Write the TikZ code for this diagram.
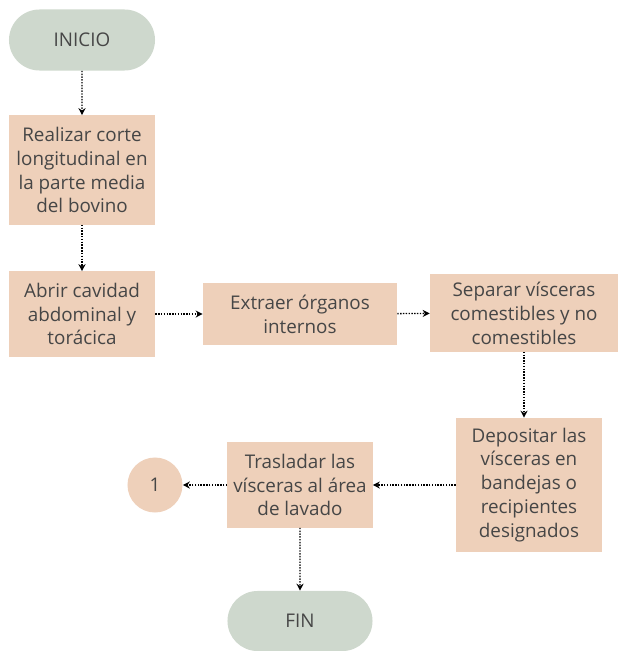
\documentclass[tikz,border=0pt]{standalone}
\usepackage{fontspec}
\setmainfont{Open Sans}
\usetikzlibrary{arrows.meta, positioning, shapes.misc}

\definecolor{peach}{RGB}{238,208,186}
\definecolor{sage}{RGB}{206,216,205}
\definecolor{ink}{RGB}{70,70,70}

\begin{document}
\begin{tikzpicture}[x=0.025cm, y=-0.025cm, >={Stealth[length=5pt, width=5pt]},
    paso/.style={fill=peach, text=ink, align=center, inner sep=0pt,
        font=\fontsize{13.4}{17}\selectfont},
    terminal/.style={rounded rectangle, fill=sage, text=ink, inner sep=0pt,
        font=\fontsize{13.4}{17}\selectfont},
    conector/.style={circle, fill=peach, text=ink, inner sep=0pt,
        font=\fontsize{13.4}{17}\selectfont},
    flecha/.style={->, densely dotted, line width=1pt, black}]

    \useasboundingbox (0,0) rectangle (620,651);

    % first column
    \node[terminal, minimum width=3.65cm, minimum height=1.525cm] (inicio) at (82,40) {INICIO};
    \node[paso, minimum width=3.65cm, minimum height=2.725cm] (corte) at (82,170)
        {Realizar corte\\longitudinal en\\la parte media\\del bovino};
    \node[paso, minimum width=3.65cm, minimum height=2.125cm] (abrir) at (82,314)
        {Abrir cavidad\\abdominal y\\torácica};

    % middle row
    \node[paso, minimum width=4.85cm, minimum height=1.525cm] (extraer) at (300,314)
        {Extraer órganos\\internos};
    \node[paso, minimum width=4.7cm, minimum height=1.925cm] (separar) at (524,313)
        {Separar vísceras\\comestibles y no\\comestibles};

    % bottom row
    \node[paso, minimum width=3.65cm, minimum height=3.35cm] (depositar) at (529,485)
        {Depositar las\\vísceras en\\bandejas o\\recipientes\\designados};
    \node[paso, minimum width=3.625cm, minimum height=2.125cm] (trasladar) at (300,485)
        {Trasladar las\\vísceras al área\\de lavado};
    \node[conector, minimum size=1.375cm] (uno) at (155,485) {1};
    \node[terminal, minimum width=3.625cm, minimum height=1.5cm] (fin) at (300,621) {FIN};

    % connectors
    \draw[flecha] (inicio) -- (corte);
    \draw[flecha] (corte) -- (abrir);
    \draw[flecha] (abrir) -- (extraer);
    \draw[flecha] (extraer) -- (separar);
    \draw[flecha] (separar.south) -- (separar.south |- depositar.north);
    \draw[flecha] (depositar) -- (trasladar);
    \draw[flecha] (trasladar) -- (uno);
    \draw[flecha] (trasladar) -- (fin);

\end{tikzpicture}
\end{document}
